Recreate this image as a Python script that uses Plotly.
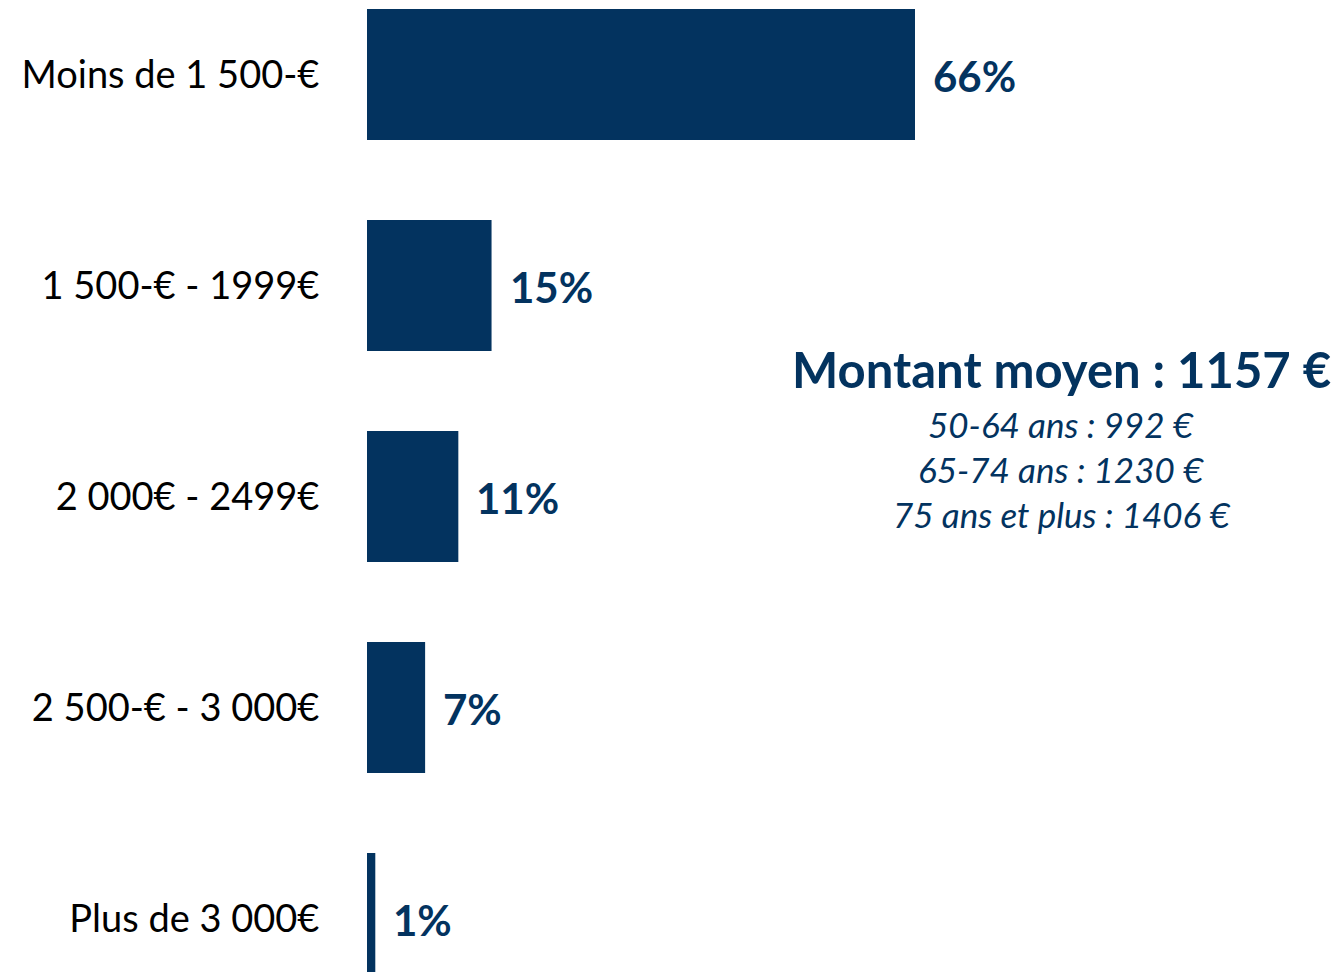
import plotly.graph_objects as go

categories = ["Moins de 1 500-€", "1 500-€ - 1999€", "2 000€ - 2499€", "2 500-€ - 3 000€", "Plus de 3 000€"]
values = [66, 15, 11, 7, 1]
value_labels = ["66%", "15%", "11%", "7%", "1%"]
title_text = "Montant moyen : 1157 €"
sub_lines = ["50-64 ans : 992 €", "65-74 ans : 1230 €", "75 ans et plus : 1406 €"]

NAVY = "#03335F"
FONT = "Lato"

# page body has an 8px margin; figure is sized to fit the window
OFF = 8
W, H = 1325, 964
ML = 367 - OFF
plot_w = W - ML
px_per_unit = (915 - 367) / 66.0
x_max = plot_w / px_per_unit

row_px = 211.0
c0 = 74.5 - OFF
y_top = -c0 / row_px
y_bot = (H - c0) / row_px

fig = go.Figure()
fig.add_trace(go.Bar(
    x=values, y=categories, orientation="h",
    marker=dict(color=NAVY, line=dict(width=0)),
    width=0.62, hoverinfo="skip",
))

annotations = []
for c, v, t in zip(categories, values, value_labels):
    annotations.append(dict(
        x=v, y=c, xref="x", yref="y", text=f"<b>{t}</b>", showarrow=False,
        xanchor="left", yanchor="middle", xshift=16, yshift=-1,
        font=dict(family=FONT, size=42, color=NAVY),
    ))

cx = (1061 - 367) / plot_w
annotations.append(dict(
    x=cx, y=1 - (369 - OFF) / H, xref="paper", yref="paper", text=f"<b>{title_text}</b>",
    showarrow=False, xanchor="center", yanchor="middle",
    font=dict(family=FONT, size=49, color=NAVY),
))
for i, line in enumerate(sub_lines):
    annotations.append(dict(
        x=cx, y=1 - (424 + 45 * i - OFF) / H, xref="paper", yref="paper", text=f"<i>{line}</i>",
        showarrow=False, xanchor="center", yanchor="middle",
        font=dict(family=FONT, size=35, color=NAVY),
    ))

fig.update_layout(
    width=W, height=H,
    margin=dict(l=ML, r=0, t=0, b=0),
    plot_bgcolor="white", paper_bgcolor="white",
    showlegend=False,
    annotations=annotations,
    xaxis=dict(range=[0, x_max], visible=False, fixedrange=True),
    yaxis=dict(
        type="category", categoryorder="array", categoryarray=categories,
        range=[y_bot, y_top], showgrid=False, showline=False, zeroline=False,
        ticks="outside", ticklen=39, tickcolor="rgba(0,0,0,0)",
        tickfont=dict(family=FONT, size=38, color="black"),
        fixedrange=True,
    ),
)

fig.write_html("out.html", config={"displayModeBar": False})
